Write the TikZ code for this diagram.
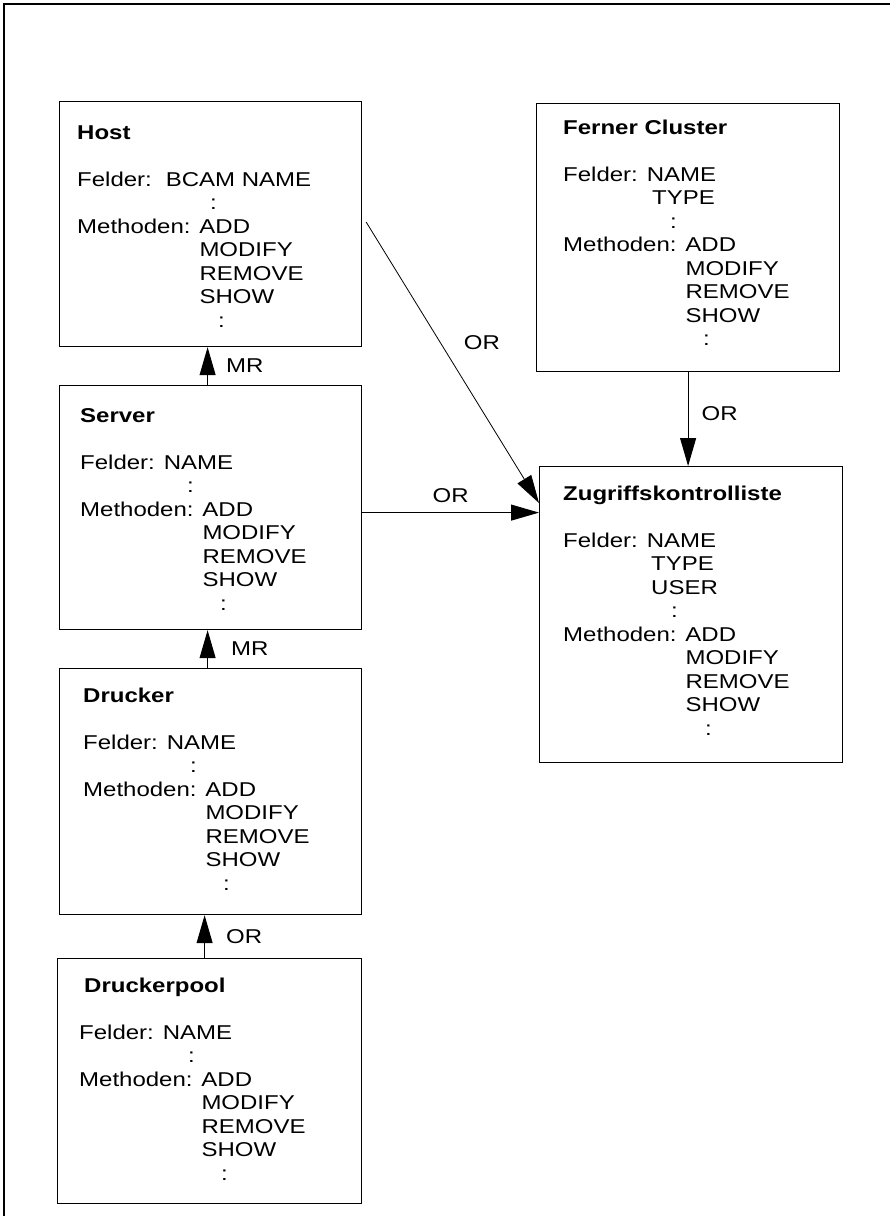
\documentclass[tikz,border=0pt]{standalone}
\usepackage{fontspec}
\setmainfont{Liberation Sans}[FakeStretch=1.2]
\usetikzlibrary{arrows.meta}

\newcommand{\einr}{\phantom{Methoden: }}

\begin{document}
\begin{tikzpicture}[x=1pt,y=-1pt,
    klasse/.style={draw,line width=1.2pt,inner sep=0pt,anchor=north west},
    inhalt/.style={anchor=base west,inner sep=0pt,font=\fontsize{20}{23.5}\selectfont},
    lbl/.style={inner sep=0pt,font=\fontsize{20}{23.5}\selectfont},
    pfeil/.style={line width=1pt,-{Triangle[length=28pt,width=16pt]}}]
    \useasboundingbox (0,0) rectangle (890,1216);
    \draw [line width=1.2pt] (890,4) -- (4,4) -- (4,1216);

    % Klassen
    \node [klasse,minimum width=302pt,minimum height=245pt] (host) at (59,101) {};
    \node [klasse,minimum width=302pt,minimum height=244pt] (server) at (59,385) {};
    \node [klasse,minimum width=302pt,minimum height=246pt] (drucker) at (59,668) {};
    \node [klasse,minimum width=304pt,minimum height=245pt] (pool) at (57,958) {};
    \node [klasse,minimum width=303pt,minimum height=268pt] (ferner) at (536,103) {};
    \node [klasse,minimum width=303pt,minimum height=296pt] (zugriff) at (539,466) {};

    \node [inhalt] (hosttext) at (77,139) {\begin{tabular}[t]{@{}l@{}}
        \textbf{Host}\\ \\
        Felder: \hspace{5pt}BCAM NAME\\
        \hspace*{133pt}:\\
        Methoden: ADD\\
        \einr MODIFY\\
        \einr REMOVE\\
        \einr SHOW\\
        \hspace*{141pt}:
    \end{tabular}};
    \node [inhalt] (servertext) at (80,422) {\begin{tabular}[t]{@{}l@{}}
        \textbf{Server}\\ \\
        Felder: NAME\\
        \hspace*{107pt}:\\
        Methoden: ADD\\
        \einr MODIFY\\
        \einr REMOVE\\
        \einr SHOW\\
        \hspace*{140pt}:
    \end{tabular}};
    \node [inhalt] (druckertext) at (83,702) {\begin{tabular}[t]{@{}l@{}}
        \textbf{Drucker}\\ \\
        Felder: NAME\\
        \hspace*{107pt}:\\
        Methoden: ADD\\
        \einr MODIFY\\
        \einr REMOVE\\
        \einr SHOW\\
        \hspace*{140pt}:
    \end{tabular}};
    \node [inhalt] (pooltext) at (79,992) {\begin{tabular}[t]{@{}l@{}}
        \hspace*{5pt}\textbf{Druckerpool}\\ \\
        Felder: NAME\\
        \hspace*{109pt}:\\
        Methoden: ADD\\
        \einr MODIFY\\
        \einr REMOVE\\
        \einr SHOW\\
        \hspace*{142pt}:
    \end{tabular}};
    \node [inhalt] (fernertext) at (563,134) {\begin{tabular}[t]{@{}l@{}}
        \textbf{Ferner Cluster}\\ \\
        Felder: NAME\\
        \hspace*{89pt}TYPE\\
        \hspace*{107pt}:\\
        Methoden: ADD\\
        \einr MODIFY\\
        \einr REMOVE\\
        \einr SHOW\\
        \hspace*{140pt}:
    \end{tabular}};
    \node [inhalt] (zugrifftext) at (563,500) {\begin{tabular}[t]{@{}l@{}}
        \textbf{Zugriffskontrolliste}\\ \\
        Felder: NAME\\
        \hspace*{88pt}TYPE\\
        \hspace*{88pt}USER\\
        \hspace*{108pt}:\\
        Methoden: ADD\\
        \einr MODIFY\\
        \einr REMOVE\\
        \einr SHOW\\
        \hspace*{142pt}:
    \end{tabular}};

    % Beziehungen
    \draw [pfeil] ([xshift=-3pt]server.north) -- ([xshift=-3pt]host.south)
        node [lbl,midway,anchor=west,xshift=18pt] {MR};
    \draw [pfeil] ([xshift=-3pt]drucker.north) -- ([xshift=-3pt]server.south)
        node [lbl,midway,anchor=west,xshift=23pt] {MR};
    \coordinate (pa) at ([xshift=-5pt]pool.north);
    \draw [pfeil] (pa) -- (pa |- drucker.south)
        node [lbl,midway,anchor=west,xshift=21pt] {OR};
    \coordinate (sa) at ([yshift=-5pt]server.east);
    \draw [pfeil] (sa) -- (sa -| zugriff.west)
        node [lbl,midway,anchor=south,yshift=9pt] {OR};
    \draw [pfeil,line width=0.8pt] ([xshift=4pt,yshift=2pt]host.east) -- ([yshift=-37pt]zugriff.north west)
        node [lbl,pos=0.43,anchor=west,xshift=23pt] {OR};
    \draw [pfeil] (ferner.south) -- (ferner.south |- zugriff.north)
        node [lbl,midway,anchor=west,xshift=13pt,yshift=5pt] {OR};
\end{tikzpicture}
\end{document}
